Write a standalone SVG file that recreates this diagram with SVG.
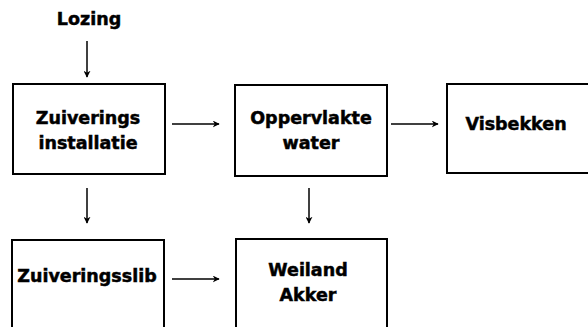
<svg xmlns="http://www.w3.org/2000/svg" width="588" height="327" viewBox="0 0 588 327">
<defs>
<marker id="ah" viewBox="0 0 10 10" refX="9" refY="5" markerWidth="7" markerHeight="7" markerUnits="userSpaceOnUse" orient="auto">
<path d="M0,0 L10,5 L0,10 L3,5 Z" fill="#000"/>
</marker>
</defs>
<style>
.box{fill:#fff;stroke:#000;stroke-width:2}
.t{font-family:"DejaVu Sans","Liberation Sans",sans-serif;font-weight:bold;font-size:17.5px;fill:#000;stroke:#000;stroke-width:0.5;text-anchor:middle}
.c{stroke:#000;stroke-width:1.5;fill:none;marker-end:url(#ah)}
</style>
<rect width="588" height="327" fill="#fff"/>
<g id="lozing"><text class="t" x="89" y="25">Lozing</text></g>
<g id="zuiveringsinstallatie">
<rect class="box" x="13" y="84" width="152" height="90"/>
<text class="t" x="88" y="124">Zuiverings</text>
<text class="t" x="88" y="149">installatie</text>
</g>
<g id="oppervlaktewater">
<rect class="box" x="235" y="85" width="152" height="91"/>
<text class="t" x="311" y="124">Oppervlakte</text>
<text class="t" x="311" y="149">water</text>
</g>
<g id="visbekken">
<rect class="box" x="447" y="84" width="150" height="89"/>
<text class="t" x="516" y="130">Visbekken</text>
</g>
<g id="zuiveringsslib">
<rect class="box" x="12" y="240" width="152" height="100"/>
<text class="t" x="87" y="282">Zuiveringsslib</text>
</g>
<g id="weilandakker">
<rect class="box" x="236" y="239" width="151" height="100"/>
<text class="t" x="308" y="276">Weiland</text>
<text class="t" x="308" y="301">Akker</text>
</g>
<g id="connectors">
<line class="c" x1="87" y1="41" x2="87" y2="77"/>
<line class="c" x1="172" y1="124" x2="219" y2="124"/>
<line class="c" x1="391" y1="124" x2="438" y2="124"/>
<line class="c" x1="87" y1="188" x2="87" y2="223"/>
<line class="c" x1="309" y1="188" x2="309" y2="223"/>
<line class="c" x1="172" y1="279" x2="219" y2="279"/>
</g>
</svg>
